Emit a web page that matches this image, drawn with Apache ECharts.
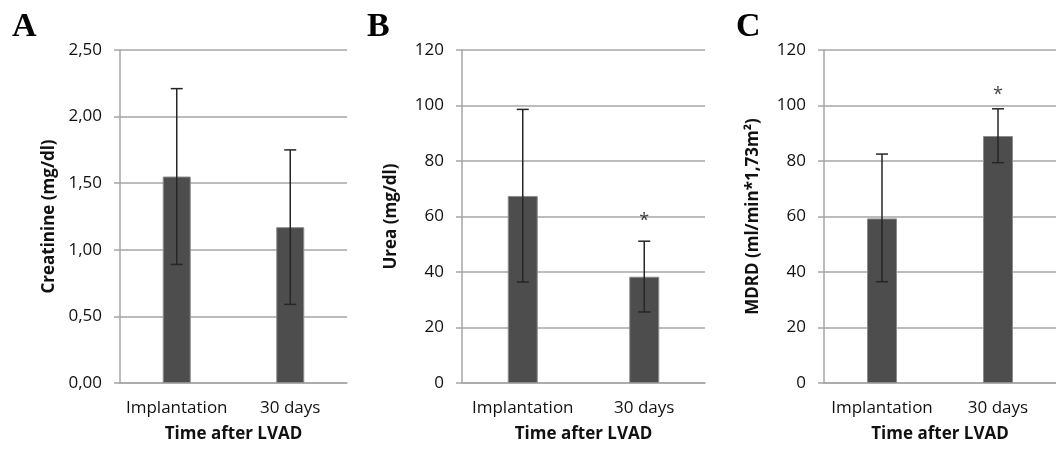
<!DOCTYPE html>
<html>
<head>
<meta charset="utf-8">
<script src="https://cdn.jsdelivr.net/npm/echarts@6/dist/echarts.min.js"></script>
<style>
    html, body { margin: 0; padding: 0; background: #fff; }
    #divStatis { width: 1056px; height: 450px; }
</style>
</head>
<body>
<div id="divStatis"></div>
<script>
// data
var categories = ['Implantation', '30 days'];

var creatMean = [1.55, 1.17];
var creatLow = [0.89, 0.59];
var creatHigh = [2.21, 1.75];

var ureaMean = [67.4, 38.3];
var ureaLow = [36.4, 25.6];
var ureaHigh = [98.6, 51.1];
var ureaStar = [null, 58.5];

var mdrdMean = [59.3, 89.0];
var mdrdLow = [36.5, 79.4];
var mdrdHigh = [82.5, 98.8];
var mdrdStar = [null, 104];

var barColor = '#4d4d4d';
var gridColor = '#a6a6a6';
var textColor = '#111';
var fontName = 'Open Sans';

function errData(low, high) {
    var out = [];
    for (var i = 0; i < low.length; i++) {
        out.push([i, low[i], high[i]]);
    }
    return out;
}

function starData(star) {
    var out = [];
    for (var i = 0; i < star.length; i++) {
        if (star[i] != null) out.push([i, star[i]]);
    }
    return out;
}

function renderErr(params, api) {
    var top = api.coord([api.value(0), api.value(2)]);
    var bot = api.coord([api.value(0), api.value(1)]);
    var half = 6;
    var style = { stroke: '#262626', lineWidth: 1.5 };
    return {
        type: 'group',
        children: [
            { type: 'line', shape: { x1: top[0], y1: top[1], x2: bot[0], y2: bot[1] }, style: style },
            { type: 'line', shape: { x1: top[0] - half, y1: top[1], x2: top[0] + half, y2: top[1] }, style: style },
            { type: 'line', shape: { x1: bot[0] - half, y1: bot[1], x2: bot[0] + half, y2: bot[1] }, style: style }
        ]
    };
}

function makeX(idx) {
    return {
        type: 'category',
        gridIndex: idx,
        data: categories,
        name: 'Time after LVAD',
        nameLocation: 'middle',
        nameGap: 43,
        nameTextStyle: { fontFamily: fontName, fontSize: 17, fontWeight: 'bold', color: textColor },
        axisLine: { lineStyle: { color: gridColor, width: 1.5 } },
        axisTick: { show: false },
        axisLabel: { fontFamily: fontName, fontSize: 17, color: textColor, margin: 17, interval: 0, hideOverlap: false },
        splitLine: { show: false }
    };
}

function makeY(idx, name, max, interval, fmt) {
    return {
        type: 'value',
        gridIndex: idx,
        min: 0,
        max: max,
        interval: interval,
        name: name,
        nameLocation: 'middle',
        nameGap: 62,
        nameTextStyle: { fontFamily: fontName, fontSize: 17, fontWeight: 'bold', color: textColor },
        axisLine: { show: true, lineStyle: { color: gridColor, width: 1.5 } },
        axisTick: { show: true, length: 6, lineStyle: { color: gridColor, width: 1.5 } },
        axisLabel: { fontFamily: fontName, fontSize: 17, color: textColor, margin: 18, formatter: fmt },
        splitLine: { show: true, lineStyle: { color: gridColor, width: 1.5 } }
    };
}

function makeBar(idx, data, width) {
    return {
        type: 'bar',
        xAxisIndex: idx,
        yAxisIndex: idx,
        barWidth: width,
        itemStyle: { color: barColor, borderColor: '#8c8c8c', borderWidth: 1 },
        data: data,
        z: 2
    };
}

function makeErr(idx, low, high) {
    return {
        type: 'custom',
        xAxisIndex: idx,
        yAxisIndex: idx,
        renderItem: renderErr,
        data: errData(low, high),
        z: 3
    };
}

function makeStar(idx, star) {
    return {
        type: 'scatter',
        xAxisIndex: idx,
        yAxisIndex: idx,
        symbolSize: 0,
        label: {
            show: true,
            position: 'inside',
            formatter: '*',
            fontFamily: fontName,
            fontSize: 18,
            color: textColor
        },
        data: starData(star),
        z: 4
    };
}

function letter(text, x) {
    return {
        type: 'text',
        left: x,
        top: 10,
        style: { text: text, font: 'bold 34px "Liberation Serif"', fill: '#000' }
    };
}

var myChart = echarts.init(document.getElementById('divStatis'), null, { renderer: 'canvas' });

var option = {
    animation: false,
    backgroundColor: '#fff',
    grid: [
        { left: 120, top: 50, width: 227, height: 333 },
        { left: 462, top: 50, width: 243, height: 333 },
        { left: 824, top: 50, width: 240, height: 333 }
    ],
    xAxis: [makeX(0), makeX(1), makeX(2)],
    yAxis: [
        makeY(0, 'Creatinine (mg/dl)', 2.5, 0.5, function (v) { return v.toFixed(2).replace('.', ','); }),
        makeY(1, 'Urea (mg/dl)', 120, 20),
        makeY(2, 'MDRD (ml/min*1,73m²)', 120, 20)
    ],
    graphic: [letter('A', 12), letter('B', 367), letter('C', 736)],
    series: [
        makeBar(0, creatMean, 28),
        makeErr(0, creatLow, creatHigh),
        makeBar(1, ureaMean, 30),
        makeErr(1, ureaLow, ureaHigh),
        makeStar(1, ureaStar),
        makeBar(2, mdrdMean, 30),
        makeErr(2, mdrdLow, mdrdHigh),
        makeStar(2, mdrdStar)
    ]
};
myChart.setOption(option);
</script>
</body>
</html>
